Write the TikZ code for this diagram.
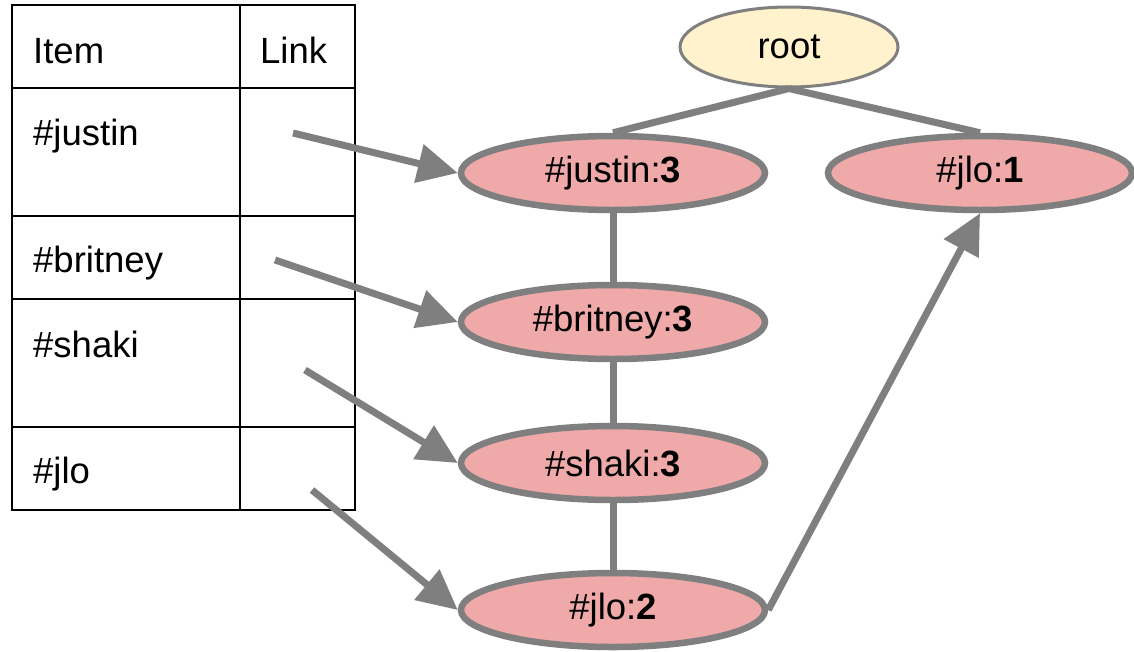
\documentclass[tikz,border=0pt]{standalone}
\usepackage{fontspec}
\setmainfont{Liberation Sans}
\usetikzlibrary{shapes.geometric,arrows.meta}
\definecolor{edgegray}{HTML}{7F7F7F}
\definecolor{nodepink}{HTML}{EFA9A9}
\definecolor{rootyellow}{HTML}{FFF2CC}

\begin{document}
\begin{tikzpicture}[x=1pt,y=-1pt,
  txt/.style={font=\fontsize{36.5}{40}\selectfont},
  cell/.style={txt,anchor=base west,inner sep=0pt},
  grid/.style={draw=black,line width=2pt},
  heap/.style={txt,ellipse,draw=edgegray,line width=6.5pt,fill=nodepink,
    minimum width=304pt,minimum height=74pt,inner sep=0pt},
  rootnode/.style={txt,ellipse,draw=edgegray,line width=3pt,fill=rootyellow,
    minimum width=218pt,minimum height=80pt,inner sep=0pt},
  link/.style={draw=edgegray,line width=7pt},
  ptr/.style={link,-{Triangle[length=40pt,width=38pt]},fill=edgegray}]
\useasboundingbox (0,0) rectangle (1134,651);

% header table
\draw[grid] (12,5) rectangle (355,510);
\draw[grid] (240,5) -- (240,510);
\foreach \y in {88,216,299,427} \draw[grid] (12,\y) -- (355,\y);

\node[cell] (hitem) at (33,63) {Item};
\node[cell] (hlink) at (260,63) {Link};
\node[cell] (tjustin) at (33,145) {\#justin};
\node[cell] (tbritney) at (33,272) {\#britney};
\node[cell] (tshaki) at (33,357) {\#shaki};
\node[cell] (tjlo) at (33,483) {\#jlo};

% pointer origins inside the Link column
\coordinate (pjustin) at (293,133);
\coordinate (pbritney) at (275,260);
\coordinate (pshaki) at (305,370);
\coordinate (pjlo) at (312,490);

% FP-tree
\node[rootnode] (root) at (789,47) {root};
\node[heap] (justin) at (613,173) {\#justin:\textbf{3}};
\node[heap] (jloA) at (980,173) {\#jlo:\textbf{1}};
\node[heap] (britney) at (613,322) {\#britney:\textbf{3}};
\node[heap] (shaki) at (613,463) {\#shaki:\textbf{3}};
\node[heap] (jloB) at (613,610) {\#jlo:\textbf{2}};

\draw[link] (root.south) -- (justin.north);
\draw[link] (root.south) -- (jloA.north);
\draw[link] (justin.south) -- (britney.north);
\draw[link] (britney.south) -- (shaki.north);
\draw[link] (shaki.south) -- (jloB.north);

% node links
\draw[ptr] (jloB.east) -- (jloA.south);
\draw[ptr] (pjustin) -- (justin.west);
\draw[ptr] (pbritney) -- (britney.west);
\draw[ptr] (pshaki) -- (shaki.west);
\draw[ptr] (pjlo) -- (jloB.west);
\end{tikzpicture}
\end{document}
